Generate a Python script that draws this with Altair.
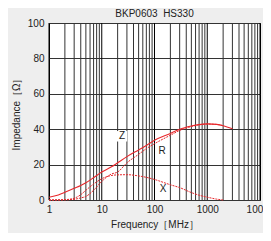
import altair as alt
import pandas as pd

# Curve data
freq_z = [1, 1.5, 2, 3, 4, 5, 7, 10, 15, 20, 30, 50, 70, 100, 200, 300, 500, 700, 1000, 1500, 2000, 3000]
z_vals = [1.6, 2.8, 4.4, 6.6, 8.2, 9.7, 12.6, 15.8, 18.6, 21.0, 24.5, 28.3, 30.8, 33.7, 37.6, 40.0, 41.8, 42.6, 43.0, 42.7, 42.0, 40.2]

freq_r = [1, 2, 3, 4, 5, 7, 10, 15, 20, 30, 50, 70, 100, 200, 300, 500, 700, 1000, 1500, 2000]
r_vals = [0.0, 0.1, 0.4, 1.2, 2.0, 5.5, 10.5, 14.6, 15.8, 21.0, 25.8, 29.0, 31.8, 36.6, 39.3, 41.5, 42.5, 42.9, 42.7, 42.0]

freq_x = [1, 2, 3, 4, 5, 7, 10, 15, 20, 30, 50, 70, 100, 200, 300, 500, 700, 1000, 1500, 2000]
x_vals = [0.0, 0.2, 1.0, 3.0, 5.5, 9.0, 12.0, 13.8, 14.2, 14.3, 13.6, 12.8, 11.6, 8.6, 7.0, 4.2, 2.7, 1.6, 0.5, 0.0]

# Curve labels
label_text = ["Z", "R", "X"]
label_freq = [24.2, 139, 145]
label_val = [36, 27.5, 6]

# Grid / tick values
major_ticks = [1, 10, 100, 1000, 10000]
minor_ticks = [m * d for d in [1, 10, 100, 1000] for m in range(2, 10)]
y_ticks = [0, 20, 40, 60, 80, 100]

RED = "#e8282c"
FONT = "Liberation Sans"

rows = []
for f, v in zip(freq_z, z_vals):
    rows.append({"f": f, "v": v, "s": "Z"})
for f, v in zip(freq_r, r_vals):
    rows.append({"f": f, "v": v, "s": "R"})
for f, v in zip(freq_x, x_vals):
    rows.append({"f": f, "v": v, "s": "X"})
curves = pd.DataFrame(rows)

xscale = alt.Scale(type="log", domain=[1, 10000], nice=False)
yscale = alt.Scale(domain=[0, 100], nice=False)

xaxis = alt.Axis(
    values=major_ticks, format="d", grid=False, ticks=False, domain=False,
    labelFont=FONT, labelFontSize=10, labelColor="#222", labelPadding=4,
    title="Frequency［MHz］", titleFont=FONT, titleFontSize=10,
    titleFontWeight="normal", titleColor="#222", titlePadding=5,
    labelFlush=False, labelOverlap=False,
)
yaxis = alt.Axis(
    values=y_ticks, grid=True, gridColor="#333", gridWidth=1, ticks=False,
    domain=False, labelFont=FONT, labelFontSize=10, labelColor="#222",
    labelPadding=5, title="Impedance［Ω］", titleFont=FONT, titleFontSize=10,
    titleFontWeight="normal", titleColor="#222", titlePadding=6,
)

base_x = alt.X("f:Q", scale=xscale, axis=xaxis)
base_y = alt.Y("v:Q", scale=yscale, axis=yaxis)

minor = alt.Chart(pd.DataFrame({"f": minor_ticks})).mark_rule(
    color="#333", strokeWidth=1
).encode(x=alt.X("f:Q", scale=xscale, axis=xaxis))

major = alt.Chart(pd.DataFrame({"f": major_ticks})).mark_rule(
    color="#000", strokeWidth=1
).encode(x=alt.X("f:Q", scale=xscale, axis=xaxis))

zline = alt.Chart(curves).transform_filter(alt.datum.s == "Z").mark_line(
    color=RED, strokeWidth=1.1, interpolate="monotone"
).encode(x=base_x, y=base_y)

rxline = alt.Chart(curves).transform_filter(alt.datum.s != "Z").mark_line(
    color=RED, strokeWidth=1, strokeDash=[2, 1], interpolate="monotone"
).encode(x=base_x, y=base_y, detail="s:N")

labels_df = pd.DataFrame({"f": label_freq, "v": label_val, "t": label_text})

zbox = alt.Chart(labels_df.iloc[:1]).mark_square(
    color="white", size=110, opacity=1
).encode(x=base_x, y=base_y)

labels = alt.Chart(labels_df).mark_text(
    font=FONT, fontSize=10, color="#222"
).encode(x=base_x, y=base_y, text="t:N")

chart = alt.layer(minor, major, zline, rxline, zbox, labels).properties(
    width=211,
    height=177,
    autosize="none",
    padding={"left": 41, "top": 15, "right": 3, "bottom": 33},
    background="#eeeeee",
    title=alt.TitleParams(
        "BKP0603\u00a0\u00a0HS330", font=FONT, fontSize=10, fontWeight="normal",
        color="#222", offset=6, dy=7, anchor="middle",
    ),
).configure_view(stroke="#000", strokeWidth=1, fill="white")

chart.save("out.html", embed_options={"renderer": "svg", "actions": False})
